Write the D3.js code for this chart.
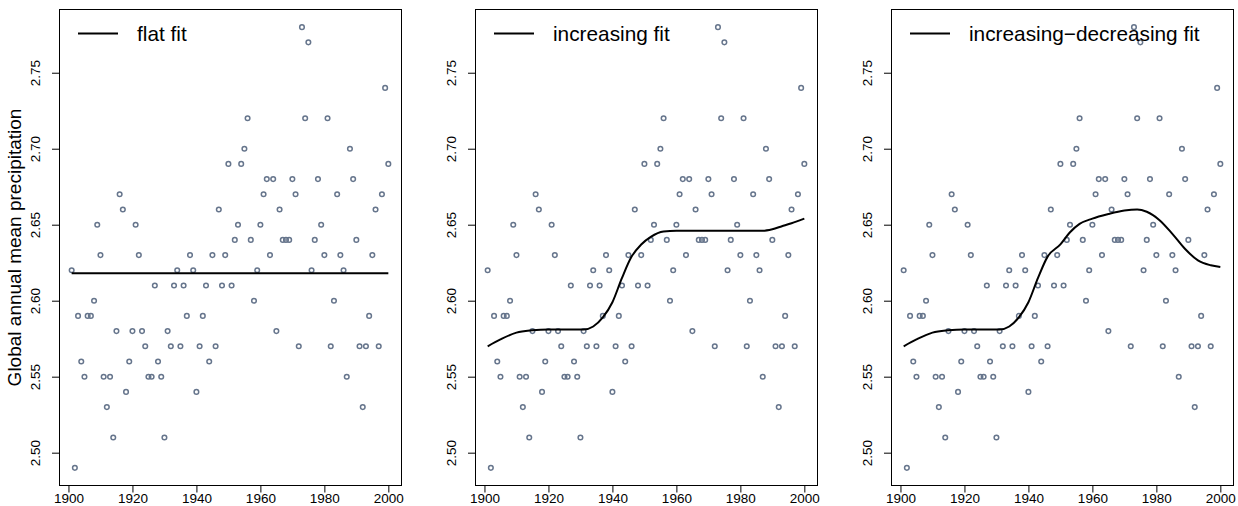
<!DOCTYPE html>
<html>
<head>
<meta charset="utf-8">
<script src="https://cdn.jsdelivr.net/npm/d3@7"></script>
<style>
  html, body { margin: 0; padding: 0; background: #ffffff; }
  svg { display: block; font-family: "Liberation Sans", Arial, Helvetica, sans-serif; }
</style>
</head>
<body>
<svg id="chart" width="1238" height="506"></svg>
<script>
// Global annual mean precipitation, 1901–2000
const years = d3.range(1901, 2001);
const precipitation = [
  2.62, 2.49, 2.59, 2.56, 2.55, 2.59, 2.59, 2.60, 2.65, 2.63,
  2.55, 2.53, 2.55, 2.51, 2.58, 2.67, 2.66, 2.54, 2.56, 2.58,
  2.65, 2.63, 2.58, 2.57, 2.55, 2.55, 2.61, 2.56, 2.55, 2.51,
  2.58, 2.57, 2.61, 2.62, 2.57, 2.61, 2.59, 2.63, 2.62, 2.54,
  2.57, 2.59, 2.61, 2.56, 2.63, 2.57, 2.66, 2.61, 2.63, 2.69,
  2.61, 2.64, 2.65, 2.69, 2.70, 2.72, 2.64, 2.60, 2.62, 2.65,
  2.67, 2.68, 2.63, 2.68, 2.58, 2.66, 2.64, 2.64, 2.64, 2.68,
  2.67, 2.57, 2.78, 2.72, 2.77, 2.62, 2.64, 2.68, 2.65, 2.63,
  2.72, 2.57, 2.60, 2.67, 2.63, 2.62, 2.55, 2.70, 2.68, 2.64,
  2.57, 2.53, 2.57, 2.59, 2.63, 2.66, 2.57, 2.67, 2.74, 2.69
];

// Fitted curves (year, fitted value)
const flatFitYears  = [1901, 2000];
const flatFitValues = [2.618, 2.618];

const increasingFitYears  = [1901, 1905, 1910, 1915, 1920, 1925, 1931, 1934, 1937, 1940, 1943, 1946, 1949, 1952, 1956, 1960, 1970, 1980, 1987, 1990, 1993, 1996, 2000];
const increasingFitValues = [2.570, 2.5745, 2.579, 2.5805, 2.581, 2.581, 2.581, 2.583, 2.589, 2.599, 2.615, 2.629, 2.637, 2.642, 2.6455, 2.646, 2.646, 2.646, 2.646, 2.647, 2.649, 2.651, 2.654];

const incDecFitYears  = [1901, 1905, 1910, 1915, 1920, 1925, 1931, 1934, 1937, 1940, 1943, 1946, 1950, 1953, 1956, 1960, 1965, 1970, 1974, 1977, 1981, 1985, 1989, 1993, 1997, 2000];
const incDecFitValues = [2.570, 2.5745, 2.579, 2.5805, 2.581, 2.581, 2.581, 2.583, 2.589, 2.599, 2.615, 2.629, 2.637, 2.645, 2.6505, 2.654, 2.657, 2.6593, 2.660, 2.6585, 2.653, 2.644, 2.634, 2.6265, 2.6233, 2.6222];

const panelLabels = ["flat fit", "increasing fit", "increasing\u2212decreasing fit"];
const xTickValues = [1900, 1920, 1940, 1960, 1980, 2000];
const yTickValues = [2.50, 2.55, 2.60, 2.65, 2.70, 2.75];
const yAxisTitle = "Global annual mean precipitation";

const panels = [
  { label: panelLabels[0], fx: flatFitYears, fy: flatFitValues },
  { label: panelLabels[1], fx: increasingFitYears, fy: increasingFitValues },
  { label: panelLabels[2], fx: incDecFitYears, fy: incDecFitValues }
];

// Layout
const plotW = 342, plotTop = 9.5, plotBottom = 485.5;
const panelLeft = i => 59 + i * 416;

const svg = d3.select("#chart");

// Axis ranges padded by 4% of the data span on each side
const xExt = d3.extent(years), yExt = d3.extent(precipitation);
const xPad = (xExt[1] - xExt[0]) * 0.04, yPad = (yExt[1] - yExt[0]) * 0.04;
const y = d3.scaleLinear().domain([yExt[0] - yPad, yExt[1] + yPad]).range([plotBottom, plotTop]);

const pointColor = "#66758c";

panels.forEach((p, i) => {
  const left = panelLeft(i);
  const x = d3.scaleLinear().domain([xExt[0] - xPad, xExt[1] + xPad]).range([left, left + plotW]);
  const g = svg.append("g");

  // x axis
  const xAxis = d3.axisBottom(x).tickValues(xTickValues).tickSize(7).tickPadding(0.5).tickFormat(d3.format("d"));
  const gx = g.append("g").attr("transform", `translate(0,${plotBottom})`).call(xAxis);
  gx.select(".domain").remove();
  gx.selectAll("line").attr("stroke", "#000");
  gx.selectAll("text").attr("font-size", 13.5).attr("fill", "#000")
    .attr("font-family", "Liberation Sans, Arial, sans-serif");

  // y axis with vertical labels
  const yAxis = d3.axisLeft(y).tickValues(yTickValues).tickSize(7).tickFormat(d3.format(".2f"));
  const gy = g.append("g").attr("transform", `translate(${left},0)`).call(yAxis);
  gy.select(".domain").remove();
  gy.selectAll("line").attr("stroke", "#000");
  gy.selectAll("text")
    .attr("font-size", 13.5).attr("fill", "#000")
    .attr("font-family", "Liberation Sans, Arial, sans-serif")
    .attr("x", null).attr("dy", null)
    .attr("text-anchor", "middle")
    .attr("transform", "translate(-19,0) rotate(-90)");

  // plot frame
  g.append("rect")
    .attr("x", left + 0.5).attr("y", plotTop)
    .attr("width", plotW).attr("height", plotBottom - plotTop)
    .attr("fill", "none").attr("stroke", "#000").attr("stroke-width", 1);

  // observations
  g.append("g").selectAll("circle")
    .data(years.map((yr, k) => [yr, precipitation[k]]))
    .join("circle")
    .attr("cx", d => x(d[0])).attr("cy", d => y(d[1]))
    .attr("r", 2.3)
    .attr("fill", "none").attr("stroke", pointColor).attr("stroke-width", 1.5);

  // fitted curve
  const line = d3.line().x(d => x(d[0])).y(d => y(d[1])).curve(d3.curveMonotoneX);
  g.append("path")
    .datum(p.fx.map((yr, k) => [yr, p.fy[k]]))
    .attr("d", line)
    .attr("fill", "none").attr("stroke", "#000").attr("stroke-width", 2);

  // legend
  g.append("line")
    .attr("x1", left + 19).attr("x2", left + 59)
    .attr("y1", 33.5).attr("y2", 33.5)
    .attr("stroke", "#000").attr("stroke-width", 2);
  g.append("text")
    .attr("x", left + 78).attr("y", 40.5)
    .attr("font-size", 20.8).attr("fill", "#000")
    .text(p.label);
});

// y axis title on the first panel
svg.append("text")
  .attr("transform", `translate(21,${(plotTop + plotBottom) / 2}) rotate(-90)`)
  .attr("text-anchor", "middle")
  .attr("font-size", 19).attr("fill", "#000")
  .text(yAxisTitle);
</script>
</body>
</html>
